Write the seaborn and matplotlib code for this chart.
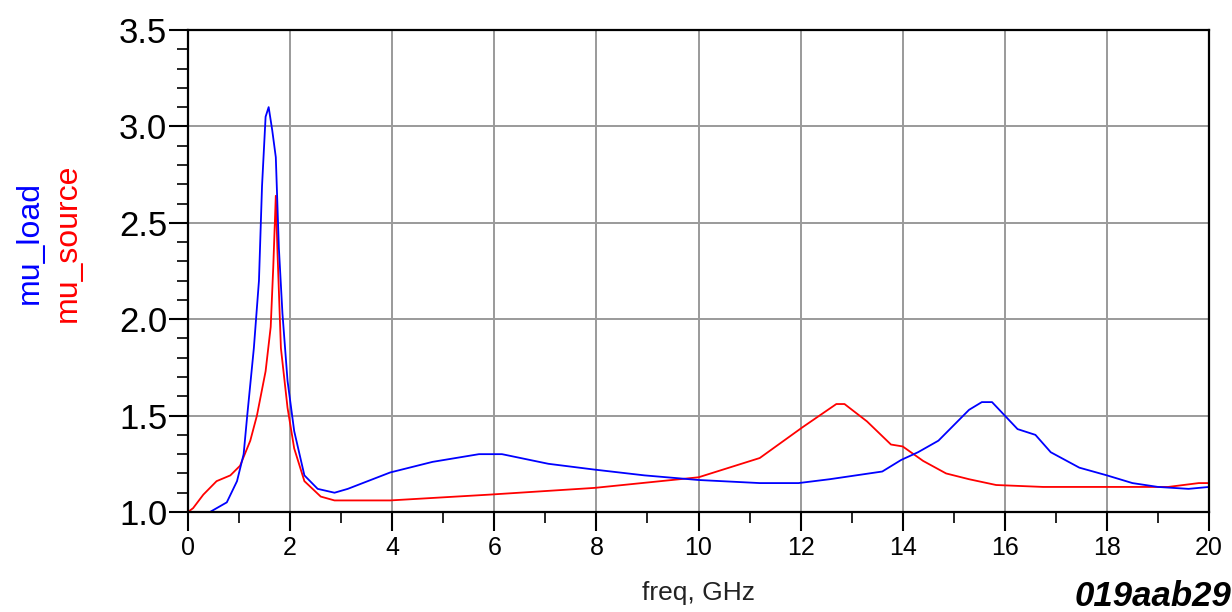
import pandas as pd
import matplotlib.pyplot as plt
import seaborn as sns
from matplotlib.ticker import MultipleLocator

# mu_load (blue)
load_freq = [0, 0.43, 0.76, 0.96, 1.09, 1.16, 1.29, 1.39, 1.45, 1.52, 1.58, 1.65, 1.72, 1.78, 1.85,
             1.95, 2.08, 2.28, 2.54, 2.87, 3.13, 3.96, 4.79, 5.7, 6.15, 7.06, 7.96, 8.94, 10.0, 11.2,
             11.96, 12.57, 13.6, 13.97, 14.3, 14.7, 15.3, 15.55, 15.75, 16.0, 16.25, 16.6, 16.9,
             17.46, 18.0, 18.5, 19.0, 19.6, 20]
mu_load = [1.0, 1.0, 1.05, 1.16, 1.30, 1.50, 1.85, 2.2, 2.69, 3.05, 3.10, 2.98, 2.84, 2.37, 2.03,
           1.68, 1.42, 1.19, 1.12, 1.10, 1.12, 1.205, 1.26, 1.30, 1.30, 1.25, 1.22, 1.19, 1.166, 1.15,
           1.15, 1.17, 1.21, 1.27, 1.31, 1.37, 1.53, 1.57, 1.57, 1.50, 1.43, 1.40, 1.31,
           1.23, 1.19, 1.15, 1.13, 1.12, 1.13]

# mu_source (red)
src_freq = [0, 0.1, 0.3, 0.56, 0.83, 1.02, 1.22, 1.35, 1.52, 1.62, 1.67, 1.72, 1.75, 1.82, 1.95,
            2.08, 2.28, 2.6, 2.87, 3.96, 5.9, 7.96, 10.0, 11.2, 12.04, 12.7, 12.86, 13.3, 13.77,
            14.0, 14.4, 14.85, 15.3, 15.83, 16.75, 19.2, 19.8, 20]
mu_source = [1.0, 1.02, 1.09, 1.16, 1.19, 1.24, 1.37, 1.50, 1.73, 1.96, 2.27, 2.64, 2.37, 1.85, 1.54,
             1.33, 1.16, 1.08, 1.06, 1.06, 1.09, 1.125, 1.18, 1.28, 1.44, 1.56, 1.56, 1.47, 1.35,
             1.34, 1.265, 1.2, 1.17, 1.14, 1.13, 1.13, 1.15, 1.15]

yticks = [1.0, 1.5, 2.0, 2.5, 3.0, 3.5]
ytick_labels = ["1.0", "1.5", "2.0", "2.5", "3.0", "3.5"]

df_load = pd.DataFrame({"freq": load_freq, "mu": mu_load})
df_src = pd.DataFrame({"freq": src_freq, "mu": mu_source})

sns.set_style("white")
plt.rcParams["font.family"] = ["Liberation Sans", "DejaVu Sans"]

fig = plt.figure(figsize=(12.32, 6.12), dpi=100)
ax = fig.add_axes([188 / 1232, 100 / 612, (1209 - 188) / 1232, (512 - 30) / 612])

sns.lineplot(x="freq", y="mu", data=df_src, ax=ax, color="#ff0000", linewidth=1.3, estimator=None, sort=False)
sns.lineplot(x="freq", y="mu", data=df_load, ax=ax, color="#0000ff", linewidth=1.3, estimator=None, sort=False)

ax.set_xlim(0, 20)
ax.set_ylim(1.0, 3.5)
ax.xaxis.set_major_locator(MultipleLocator(2))
ax.xaxis.set_minor_locator(MultipleLocator(1))
ax.yaxis.set_minor_locator(MultipleLocator(0.1))
ax.set_yticks(yticks)
ax.set_yticklabels(ytick_labels)
ax.grid(True, which="major", color="#9a9a9a", linewidth=1.4)
ax.tick_params(axis="y", which="major", length=14, width=1.5, labelsize=25, pad=1,
               left=True, colors="black")
ax.tick_params(axis="y", which="minor", length=8, width=1.2, left=True, colors="black")
ax.tick_params(axis="x", which="major", length=14, width=1.5, labelsize=18, pad=3,
               bottom=True, colors="black")
ax.tick_params(axis="x", which="minor", length=8, width=1.2, bottom=True, colors="black")
for s in ["left", "bottom", "top", "right"]:
    ax.spines[s].set_color("black")
    ax.spines[s].set_linewidth(1.6)

ax.set_xlabel("")
ax.set_ylabel("")
fig.text(699 / 1232, 1 - 593 / 612, "freq, GHz", fontsize=19, color="#222222", ha="center", va="center")
fig.text(30 / 1232, 1 - 243 / 612, "mu_load", color="#0000ff", fontsize=23, rotation=90, ha="center", va="center")
fig.text(68 / 1232, 1 - 243 / 612, "mu_source", color="#ff0000", fontsize=23, rotation=90, ha="center", va="center")
fig.text(1075 / 1232, 1 - 606 / 612, "019aab29", fontsize=25, style="italic", weight="bold",
         color="black", ha="left", va="baseline")

fig.savefig("out.png", dpi=100, facecolor="white")
